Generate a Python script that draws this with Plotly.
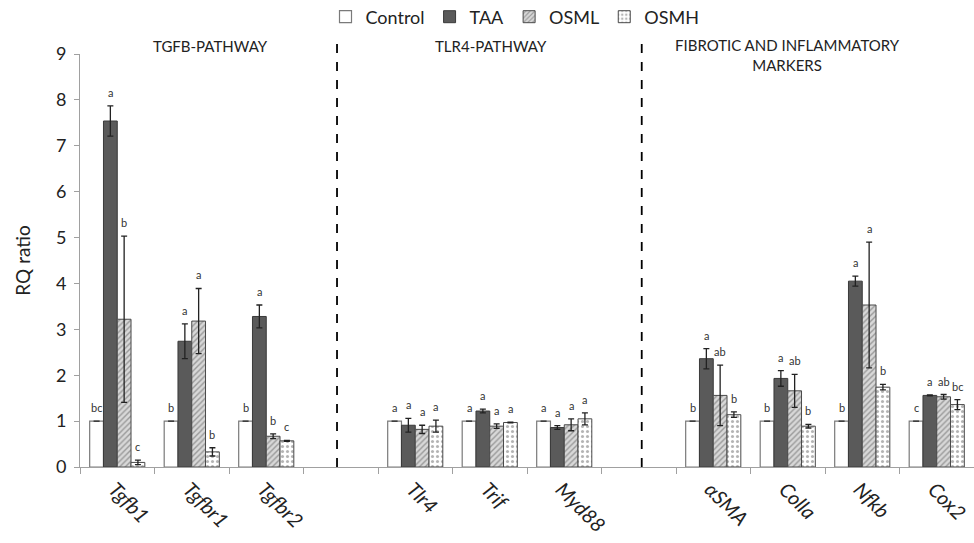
import plotly.graph_objects as go

genes = ["Tgfb1", "Tgfbr1", "Tgfbr2", " ", "Tlr4", "Trif", "Myd88", "  ", "αSMA", "Colla", "Nfkb", "Cox2"]

control = [1, 1, 1, None, 1, 1, 1, None, 1, 1, 1, 1]
taa = [7.54, 2.74, 3.28, None, 0.91, 1.22, 0.86, None, 2.36, 1.93, 4.05, 1.56]
osml = [3.22, 3.18, 0.67, None, 0.82, 0.89, 0.92, None, 1.56, 1.66, 3.53, 1.53]
osmh = [0.10, 0.33, 0.57, None, 0.89, 0.97, 1.05, None, 1.14, 0.89, 1.74, 1.36]

control_err = [0, 0, 0, None, 0, 0, 0, None, 0, 0, 0, 0]
taa_err = [0.33, 0.38, 0.25, None, 0.15, 0.04, 0.04, None, 0.22, 0.17, 0.11, 0.01]
osml_err = [1.81, 0.71, 0.05, None, 0.09, 0.05, 0.13, None, 0.66, 0.36, 1.37, 0.05]
osmh_err = [0.05, 0.09, 0.01, None, 0.13, 0.01, 0.13, None, 0.06, 0.04, 0.06, 0.11]

control_sig = ["bc", "b", "b", "", "a", "a", "a", "", "b", "b", "b", "c"]
taa_sig = ["a", "a", "a", "", "a", "a", "a", "", "a", "a", "a", "a"]
osml_sig = ["b", "a", "b", "", "a", "a", "a", "", "ab", "ab", "a", "ab"]
osmh_sig = ["c", "b", "c", "", "a", "a", "a", "", "b", "b", "b", "bc"]

group_titles = ["TGFB-PATHWAY", "TLR4-PATHWAY", "FIBROTIC AND INFLAMMATORY<br>MARKERS"]
tick_labels = [("<i>%s</i>" % g) if g.strip() else "" for g in genes]

FONT = "Lato, 'Open Sans', sans-serif"
W, H = 974, 543
ML, MR, MT, MB = 80, 0, 54, 76
BARGAP = 0.26

fig = go.Figure()

series = [
    ("Control", control, control_err, control_sig,
     dict(color="white", line=dict(color="#7a7a7a", width=1.2))),
    ("TAA", taa, taa_err, taa_sig,
     dict(color="#5a5a5a", line=dict(color="#3a3a3a", width=1))),
    ("OSML", osml, osml_err, osml_sig,
     dict(color="#d0d0d0", line=dict(color="#4a4a4a", width=1),
          pattern=dict(shape="/", fgcolor="#5a5a5a", bgcolor="#d8d8d8", size=4, solidity=0.35))),
    ("OSMH", osmh, osmh_err, osmh_sig,
     dict(color="white", line=dict(color="#4a4a4a", width=1),
          pattern=dict(shape=".", fgcolor="#6a6a6a", bgcolor="white", size=5, solidity=0.3))),
]

for name, vals, errs, sig, marker in series:
    fig.add_trace(go.Bar(
        name=name, x=genes, y=vals, marker=marker,
        error_y=dict(type="data", array=errs, visible=True, color="#222222",
                     thickness=1.3, width=3),
    ))

# significance letters
plot_w = W - ML - MR
cat_w = plot_w / len(genes)
bar_w = cat_w * (1 - BARGAP) / len(series)
for i, (name, vals, errs, sig, marker) in enumerate(series):
    shift = (i - (len(series) - 1) / 2) * bar_w
    for g, v, e, s in zip(genes, vals, errs, sig):
        if v is None or not s:
            continue
        fig.add_annotation(x=g, y=v + (e or 0), xref="x", yref="y", text=s,
                           showarrow=False, xshift=shift, yshift=5, yanchor="bottom",
                           font=dict(size=11, color="#333333", family=FONT))

# dashed separators at the blank categories
for sep, off in [(" ", -0.05), ("  ", 0.04)]:
    idx = genes.index(sep)
    fig.add_shape(type="line", xref="x", yref="paper", x0=idx + off, x1=idx + off,
                  y0=0, y1=1.034, line=dict(color="black", width=1.8, dash="dash"))

# group titles
title_pos = [(1.25, 1.045), (5.02, 1.045), (9.0, 1.048)]
for (tx, ty), t in zip(title_pos, group_titles):
    fig.add_annotation(x=tx, y=ty, xref="x", yref="paper", text=t, showarrow=False,
                       yanchor="top", font=dict(size=15, color="#222222", family=FONT))

fig.update_layout(
    width=W, height=H,
    margin=dict(l=ML, r=MR, t=MT, b=MB, pad=0, autoexpand=False),
    paper_bgcolor="white", plot_bgcolor="white",
    barmode="group", bargap=BARGAP, bargroupgap=0,
    font=dict(family=FONT, color="#222222"),
    showlegend=True,
    legend=dict(orientation="h", xref="container", yref="container",
                x=515 / W, xanchor="center", y=1 - 17 / H, yanchor="middle",
                font=dict(size=18, family=FONT, color="#222222"),
                itemwidth=30, tracegroupgap=0, bgcolor="rgba(0,0,0,0)"),
    xaxis=dict(tickmode="array", tickvals=genes, ticktext=tick_labels,
               tickangle=45, tickfont=dict(size=20, family=FONT, color="#222222"),
               ticklabelshift=-3, ticklabelstandoff=2, automargin=False,
               showline=True, linecolor="#a0a0a0", linewidth=1,
               ticks="outside", tickson="boundaries", ticklen=6, tickcolor="#a0a0a0",
               showgrid=False, fixedrange=True),
    yaxis=dict(range=[0, 9], dtick=1, showgrid=False, zeroline=False, automargin=False,
               showline=True, linecolor="#a0a0a0", linewidth=1,
               ticks="outside", ticklen=5, tickcolor="#a0a0a0", ticklabelstandoff=4,
               tickfont=dict(size=18, family=FONT, color="#222222"),
               title=dict(text="RQ ratio", font=dict(size=19, family=FONT, color="#222222"), standoff=20)),
)

fig.write_html("out.html", config={"displayModeBar": False},
               post_script="document.body.style.margin='0';document.body.style.overflow='hidden';")
